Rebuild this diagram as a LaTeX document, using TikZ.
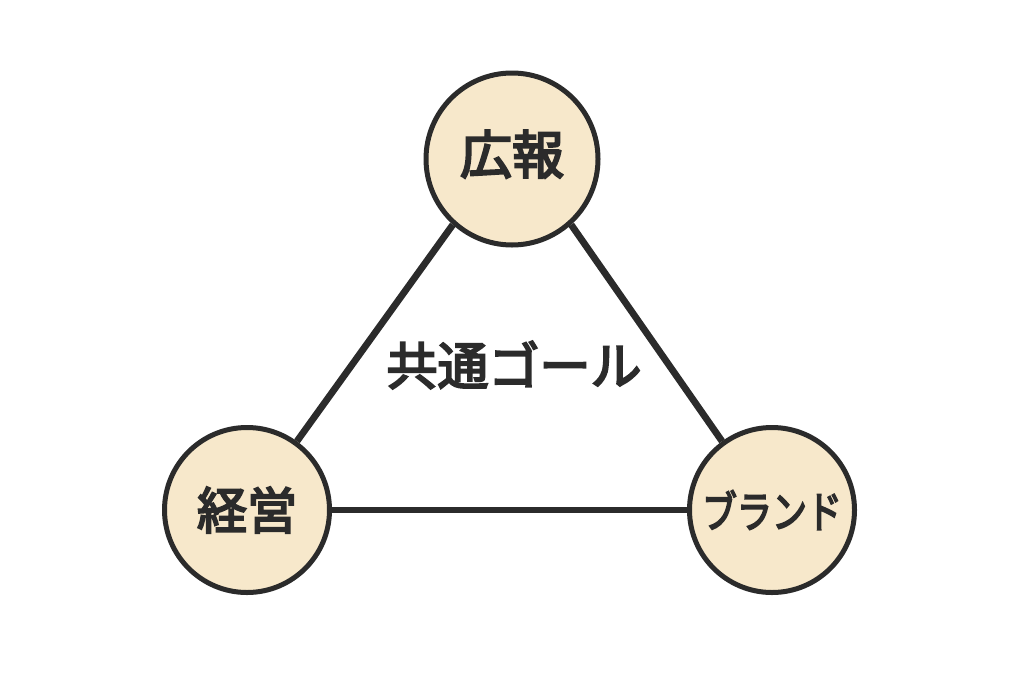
\documentclass[tikz,border=0pt]{standalone}
\usepackage{fontspec}
\newfontfamily\cjk[FakeBold=4]{Noto Sans CJK JP}
\usetikzlibrary{positioning}
\definecolor{cream}{HTML}{F7E8CB}
\definecolor{ink}{HTML}{2B2B2B}
\begin{document}
\begin{tikzpicture}[x=1pt,y=-1pt,
  every node/.style={text=ink,font=\cjk},
  role/.style={circle,draw=ink,line width=5pt,fill=cream,inner sep=0pt},
  link/.style={draw=ink,line width=6.8pt}
]
\useasboundingbox (0,0) rectangle (1024,683);
\node[role,minimum size=172pt,font=\cjk\fontsize{52}{52}\selectfont] (nPR) at (512,159) {広報\rule[-14pt]{0pt}{1pt}};
\node[role,minimum size=165pt,font=\cjk\fontsize{50}{50}\selectfont] (nMgmt) at (247,510) {経営};
\node[role,minimum size=165pt,font=\cjk\fontsize{35}{35}\selectfont] (nBrand) at (772,510) {\scalebox{1}[1.25]{ブランド}};
\node[font=\cjk\fontsize{51}{51}\selectfont] (nGoal) at (514,365) {共通ゴール};
\draw[link] (nPR.228) -- (nMgmt.54);
\draw[link] (nPR.312) -- (nBrand.126);
\draw[link] (nMgmt) -- (nBrand);
\end{tikzpicture}
\end{document}
